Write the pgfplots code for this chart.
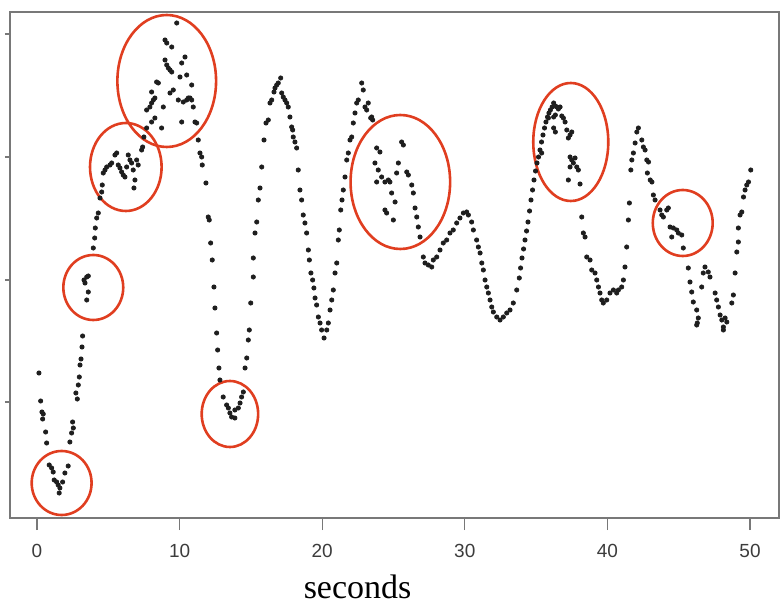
\documentclass[border=0pt]{standalone}
\usepackage{fontspec}
\setmainfont{Liberation Serif}
\newfontfamily\sansf{Liberation Sans}
\usepackage{pgfplots}
\usepackage{pgfplotstable}
\pgfplotsset{compat=1.18}
\definecolor{circred}{RGB}{224,62,32}
\definecolor{dotc}{RGB}{30,30,30}
\definecolor{axc}{RGB}{120,120,120}
\definecolor{tlc}{RGB}{60,60,60}
\pgfplotstableread{
x y
0.14 145
0.26 117
0.35 106
0.44 104
0.40 99
0.61 86
0.68 75
0.86 53
1.03 50
1.14 46
1.21 38
1.38 36
1.49 33
1.61 30
1.56 25
1.80 36
1.96 45
2.19 52
2.31 76
2.43 85
2.55 90
2.50 96
2.83 119
2.73 125
2.90 133
2.97 141
3.02 153
3.09 159
3.16 171
3.20 182
3.49 218
3.60 226
3.37 235
3.49 241
3.60 242
3.30 238
3.95 270
4.05 280
4.09 290
4.19 300
4.30 305
4.42 320
4.54 326
4.58 333
4.65 345
4.77 348
4.89 351
5.12 353
5.24 355
5.47 363
5.59 365
5.70 353
5.82 350
5.94 346
6.05 343
6.17 341
6.29 351
6.40 363
6.52 358
6.64 355
6.75 348
6.87 338
6.80 330
6.99 358
7.10 353
7.34 368
7.41 371
7.50 381
7.69 390
8.04 396
7.69 408
7.92 411
8.04 415
8.16 418
8.27 400
8.51 435
8.39 436
8.04 426
8.27 420
8.74 390
8.86 411
8.98 458
9.10 453
9.21 450
9.33 448
9.45 446
8.98 478
9.10 475
9.45 471
9.80 495
9.56 428
9.33 425
10.03 441
10.15 455
10.38 461
10.50 443
9.91 418
10.26 416
10.50 418
10.61 420
10.73 420
10.85 418
10.96 411
10.85 433
10.15 396
11.08 396
11.20 395
11.31 378
11.43 365
11.55 361
11.59 353
11.85 335
12.01 301
12.08 298
12.18 275
12.29 258
12.41 231
12.48 210
12.60 185
12.67 168
12.76 150
12.83 138
13.06 121
13.30 113
13.42 110
13.53 105
13.65 101
13.88 100
13.88 108
14.12 110
14.24 115
14.35 121
14.47 126
14.59 150
14.71 160
14.82 178
14.89 188
14.99 215
15.17 241
15.17 260
15.29 285
15.41 296
15.52 318
15.64 330
15.76 351
15.92 378
16.06 395
16.22 398
16.34 415
16.46 418
16.62 426
16.69 430
16.81 433
16.92 435
17.09 440
17.16 425
17.27 421
17.39 418
17.51 415
17.62 411
17.74 401
17.86 391
17.93 388
17.97 381
18.09 376
18.21 370
18.32 348
18.44 328
18.56 318
18.67 303
18.79 295
18.91 285
19.03 268
19.10 258
19.21 245
19.33 238
19.42 230
19.50 220
19.61 213
19.73 201
19.85 195
19.96 188
20.13 180
20.32 188
20.43 195
20.55 208
20.67 218
20.78 228
20.90 245
21.02 255
21.13 278
21.20 288
21.30 308
21.39 318
21.48 328
21.60 341
21.72 358
21.83 365
21.95 378
22.07 381
22.18 395
22.30 405
22.42 415
22.53 418
22.77 435
22.88 428
23.00 411
23.12 408
23.23 415
23.40 400
23.54 398
23.47 401
23.82 370
24.05 366
23.70 355
23.93 348
23.82 336
24.17 341
24.40 336
24.64 338
24.75 336
24.87 325
25.11 316
24.40 308
24.52 305
24.99 298
25.57 376
25.69 373
25.34 355
25.22 345
25.93 346
26.04 343
26.28 333
26.39 325
26.51 310
26.63 301
26.74 291
26.86 281
27.09 261
27.21 255
27.44 253
27.68 251
27.79 258
28.03 261
28.26 268
28.49 275
28.73 278
28.96 285
29.19 288
29.43 295
29.66 300
29.90 305
30.13 306
30.25 303
30.48 296
30.60 288
30.83 278
30.95 271
31.07 265
31.19 255
31.30 248
31.42 238
31.54 231
31.65 225
31.77 218
31.89 211
32.00 206
32.24 201
32.47 198
32.70 201
32.94 205
33.17 208
33.40 215
33.64 228
33.82 240
33.91 250
34.01 260
34.12 269
34.22 278
34.33 287
34.43 296
34.54 307
34.64 318
34.75 328
34.85 338
34.96 347
35.06 355
35.17 361
35.27 368
35.39 365
35.38 376
35.48 383
35.59 390
35.69 396
35.80 401
35.86 400
35.90 405
36.00 408
36.12 411
36.23 415
36.35 412
36.45 411
36.56 409
36.68 411
36.35 403
36.23 401
36.80 402
36.91 400
37.03 396
36.23 390
36.35 386
37.15 388
37.38 383
37.50 386
37.26 380
37.38 361
37.50 358
37.61 355
37.38 351
37.73 360
37.85 351
37.96 348
37.26 338
38.08 334
38.20 301
38.31 285
38.43 281
38.55 261
38.78 258
38.90 248
39.13 245
39.25 238
39.37 231
39.48 225
39.60 218
39.71 215
39.95 218
40.18 225
40.42 228
40.65 225
40.77 228
41.00 231
41.12 238
41.23 251
41.35 271
41.47 298
41.54 315
41.64 348
41.71 358
41.82 365
41.94 375
42.06 386
42.17 390
42.41 378
42.52 371
42.64 368
42.76 358
42.80 345
42.88 356
43.00 338
43.12 336
43.22 323
43.34 318
43.69 308
43.81 303
44.16 308
44.27 310
43.92 301
44.39 291
44.62 290
44.86 288
44.97 285
45.21 283
44.51 281
45.32 270
45.67 250
45.79 236
45.91 226
46.02 216
46.26 208
46.37 200
46.30 195
46.26 193
46.84 251
47.07 246
47.19 241
46.72 245
46.61 231
47.55 225
47.66 218
47.78 211
47.90 203
48.02 198
48.25 200
48.37 196
48.13 191
48.13 188
48.72 215
48.83 223
48.95 245
49.07 266
49.18 276
49.18 290
49.30 303
49.42 306
49.54 321
49.65 328
49.77 333
49.89 336
50.05 348
}\dotdata
\pgfplotstableread{
cx cy rx ry
1.73 35 2.10 32
3.95 230.5 2.10 32.5
6.23 351 2.51 44
9.10 437 3.46 66
13.53 104 1.98 33
25.48 336 3.49 67
37.43 376 2.63 59
45.28 295 2.10 33
}\ellipses
\begin{document}
\begin{tikzpicture}
\begin{axis}[
  scale only axis,
  width=384.5pt, height=253pt,
  xmin=-1.89, xmax=52.03, ymin=0, ymax=506,
  axis line style={draw=axc, line width=0.75pt},
  xtick={0,10,20,30,40,50},
  ytick=\empty,
  extra y ticks={116,238,361,484},
  extra y tick labels={},
  extra y tick style={major tick length=2.5pt},
  xtick pos=lower, ytick pos=left,
  tick align=outside,
  major tick length=6pt,
  tick style={draw=axc, line width=0.6pt},
  /pgf/number format/assume math mode=true,
  x tick label style={font=\sansf\fontsize{9.5}{10}\selectfont, text=tlc, anchor=center, yshift=-10.5pt},
  xlabel={seconds},
  xlabel style={at={(axis description cs:0.452,0)}, anchor=base, yshift=-40pt, inner sep=0pt, font=\fontsize{17}{17}\selectfont, text=black},
  clip=false,
]
\addplot[only marks, mark=*, mark size=1.05pt, color=dotc] table[x=x, y=y] {\dotdata};
\pgfplotsinvokeforeach{0,...,7}{
  \pgfplotstablegetelem{#1}{cx}\of{\ellipses}\edef\ecx{\pgfplotsretval}
  \pgfplotstablegetelem{#1}{cy}\of{\ellipses}\edef\ecy{\pgfplotsretval}
  \pgfplotstablegetelem{#1}{rx}\of{\ellipses}\edef\erx{\pgfplotsretval}
  \pgfplotstablegetelem{#1}{ry}\of{\ellipses}\edef\ery{\pgfplotsretval}
  \edef\temp{\noexpand\draw[circred, line width=1.3pt] (axis cs:\ecx,\ecy) ellipse [x radius=\erx, y radius=\ery];}
  \temp
}
\end{axis}
\pgfresetboundingbox
\path[use as bounding box] ([xshift=-5pt,yshift=-43.5pt]current axis.south west) rectangle ([xshift=1pt,yshift=6pt]current axis.north east);
\end{tikzpicture}
\end{document}
